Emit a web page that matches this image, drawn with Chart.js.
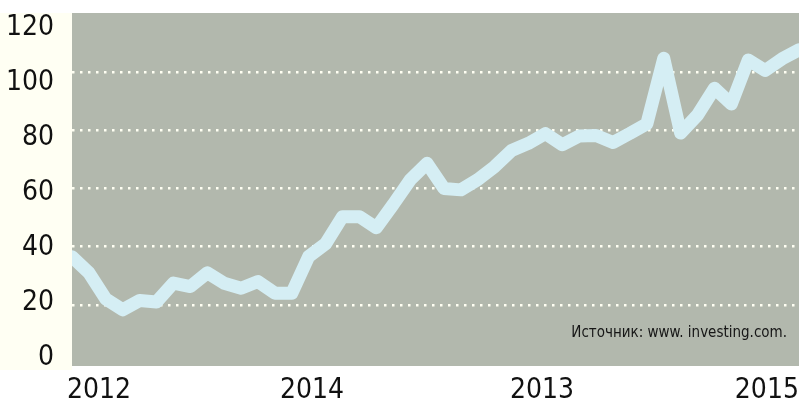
<!DOCTYPE html>
<html lang="ru">
  <head>
    <meta charset="UTF-8" />
    <title>Investing chart</title>
    <script src="https://cdnjs.cloudflare.com/ajax/libs/Chart.js/4.4.1/chart.umd.min.js"></script>
    <style>
      html, body {
        margin: 0;
        padding: 0;
        background: #ffffff;
      }
      .chart-box {
        width: 799px;
        height: 402px;
        position: relative;
      }
    </style>
  </head>
  <body>
    <div class="chart-box">
      <canvas id="lineChart"></canvas>
    </div>

    <script>
      // values, one per step
      const values = [
        36.5, 31, 22, 18.3, 21.5, 21, 27.5, 26.3, 31, 27.4, 25.7, 28, 24, 24,
        36.6, 41, 50.3, 50.3, 46.5, 54.5, 62.9, 68.6, 60, 59.5, 63, 67.5, 73,
        75.5, 78.8, 75, 78, 78.2, 75.8, 78.9, 82.2, 104.7, 79, 85.2, 94.4, 89,
        104.1, 100.5, 104.5, 107.6,
      ];
      const yearLabels = ["2012", "2014", "2013", "2015"];
      const yearPositions = [1.6, 14.2, 27.8, 41.1];
      const gridValues = [20, 40, 60, 80, 100];
      const yTickValues = [0, 20, 40, 60, 80, 100, 120];
      const sourceText = "Источник: www. investing.com.";

      const FONT = "'DejaVu Sans Condensed', 'DejaVu Sans', sans-serif";
      const CREAM = "#fffff3";
      const PLOT_BG = "#b2b8ad";

      const points = values.map((v, i) => ({ x: i, y: v }));

      // backgrounds + source note
      const decor = {
        id: "decor",
        beforeDraw(chart) {
          const { ctx, chartArea: a } = chart;
          ctx.save();
          ctx.fillStyle = CREAM;
          ctx.fillRect(0, a.top, a.left, a.bottom - a.top + 4);
          ctx.fillStyle = PLOT_BG;
          ctx.fillRect(a.left, a.top, a.right - a.left, a.bottom - a.top);
          ctx.restore();
        },
        afterDraw(chart) {
          const { ctx, chartArea: a } = chart;
          ctx.save();
          ctx.font = "15px " + FONT;
          ctx.fillStyle = "#161616";
          ctx.textAlign = "right";
          ctx.textBaseline = "middle";
          ctx.fillText(sourceText, a.right - 12, a.bottom - 33);
          ctx.restore();
        },
      };

      const zeroPadding = (scale) => {
        scale.paddingTop = 0;
        scale.paddingBottom = 0;
        scale.paddingLeft = 0;
        scale.paddingRight = 0;
      };

      new Chart(document.getElementById("lineChart"), {
        type: "line",
        data: {
          datasets: [
            {
              data: points,
              borderColor: "#d5eef4",
              borderWidth: 13,
              borderJoinStyle: "round",
              borderCapStyle: "round",
              pointRadius: 0,
              tension: 0,
              clip: 0,
            },
          ],
        },
        options: {
          responsive: true,
          maintainAspectRatio: false,
          animation: false,
          layout: { padding: { top: 13, left: 0, right: 0, bottom: 0 } },
          plugins: {
            legend: { display: false },
            tooltip: { enabled: false },
          },
          scales: {
            x: {
              type: "linear",
              min: 0,
              max: values.length - 1,
              grid: { display: false, drawTicks: false },
              border: { display: false },
              afterBuildTicks: (scale) => {
                scale.ticks = yearPositions.map((p) => ({ value: p }));
              },
              ticks: {
                autoSkip: false,
                maxRotation: 0,
                padding: 8,
                color: "#111111",
                font: { family: FONT, size: 28 },
                callback: (val, i) => yearLabels[i],
              },
              afterFit: (scale) => {
                scale.height = 36;
                zeroPadding(scale);
              },
            },
            y: {
              position: "left",
              min: -1,
              max: 120.25,
              afterBuildTicks: (scale) => {
                scale.ticks = gridValues.map((v) => ({ value: v }));
              },
              ticks: { display: false },
              grid: {
                drawTicks: false,
                color: CREAM,
                lineWidth: 2.5,
              },
              border: { display: false, dash: [2.5, 5.5] },
              afterFit: (scale) => {
                scale.width = 0;
                zeroPadding(scale);
              },
            },
            yl: {
              position: "left",
              min: -2.9,
              max: 125.5,
              afterBuildTicks: (scale) => {
                scale.ticks = yTickValues.map((v) => ({ value: v }));
              },
              grid: { display: false, drawTicks: false },
              border: { display: false },
              ticks: {
                padding: 18,
                color: "#111111",
                font: { family: FONT, size: 28 },
              },
              afterFit: (scale) => {
                scale.width = 72;
                zeroPadding(scale);
              },
            },
          },
        },
        plugins: [decor],
      });
    </script>
  </body>
</html>
